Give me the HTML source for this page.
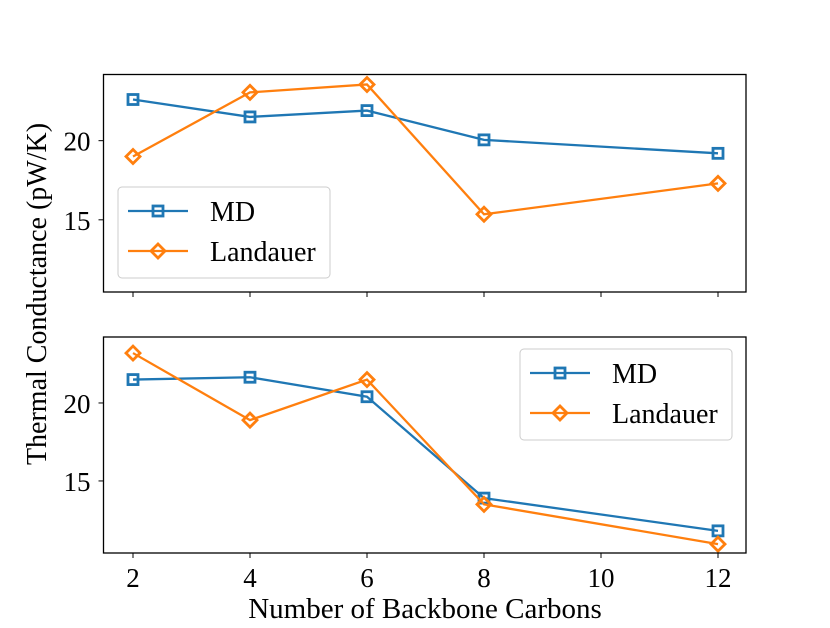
<!DOCTYPE html>
<html><head><meta charset="utf-8"><style>
body{margin:0;background:#fff}
svg text{font-family:"Liberation Serif",serif;fill:#000}
</style></head><body>
<svg width="830" height="623" xmlns="http://www.w3.org/2000/svg">
<g id="root"></g>
</svg>
<script>
const xCats=[2,4,6,8,12];
const xTicks=[2,4,6,8,10,12];
const topMD=[22.6,21.5,21.9,20.05,19.2];
const topLand=[19.0,23.05,23.55,15.35,17.3];
const botMD=[21.5,21.65,20.4,13.9,11.8];
const botLand=[23.2,18.9,21.5,13.5,10.95];
const yTicks=[15,20];
const seriesNames=["MD","Landauer"];
const colors=["#1f77b4","#ff7f0e"];
const NS="http://www.w3.org/2000/svg";
const root=document.getElementById('root');
function mk(t,a,p){const e=document.createElementNS(NS,t);for(const k in a)e.setAttribute(k,a[k]);(p||root).appendChild(e);return e;}
const X0=103.5,X1=746;
function xs(v){return 133+(v-2)*58.5;}
function marker(g,kind,x,y,c){
  let e;
  if(kind===0){e=mk('rect',{x:x-5,y:y-5,width:10,height:10,fill:'none',stroke:c,'stroke-width':2.8},g);}
  else{e=mk('polygon',{points:`${x},${y-7} ${x+7},${y} ${x},${y+7} ${x-7},${y}`,fill:'none',stroke:c,'stroke-width':2.8},g);}
  
  
}
function panel(name,top,bot,ymin,ymax,d1,d2,showX,leg){
  const g=mk('g',{});
  
  
  const ys=v=>bot-(v-ymin)/(ymax-ymin)*(bot-top);
  [d1,d2].forEach((d,si)=>{
    const pl=mk('polyline',{points:d.map((v,i)=>xs(xCats[i])+','+ys(v)).join(' '),fill:'none',stroke:colors[si],'stroke-width':2.3},g);
    
    
    d.forEach((v,i)=>marker(g,si,xs(xCats[i]),ys(v),colors[si]));
  });
  const fr=mk('rect',{x:X0,y:top,width:X1-X0,height:bot-top,fill:'none',stroke:'#000','stroke-width':1.3},g);
  
  
  yTicks.forEach(t=>{
    const y=ys(t);
    mk('line',{x1:X0-5,x2:X0,y1:y,y2:y,stroke:'#000'},g);
    const tx=mk('text',{x:X0-13,y:y+10,'text-anchor':'end','font-size':27},g);
    tx.textContent=t;
    
    
  });
  xTicks.forEach(t=>{
    const x=xs(t);
    mk('line',{x1:x,x2:x,y1:bot,y2:bot+5,stroke:'#000'},g);
    if(showX){
      const tx=mk('text',{x:x,y:bot+34,'text-anchor':'middle','font-size':27},g);
      tx.textContent=t;
      
      
    }
  });
  const lg=mk('g',{},g);
  
  
  mk('rect',{x:leg[0],y:leg[1],width:212,height:91,rx:4,fill:'#fff','fill-opacity':0.8,stroke:'#ccc','stroke-width':1},lg);
  seriesNames.forEach((n,si)=>{
    const yy=leg[1]+24+si*40;
    const ent=mk('g',{},lg);
    
    
    mk('line',{x1:leg[0]+10,x2:leg[0]+70,y1:yy,y2:yy,stroke:colors[si],'stroke-width':2.3},ent);
    marker(ent,si,leg[0]+40,yy,colors[si]);
    const t=mk('text',{x:leg[0]+92,y:yy+10,'font-size':28},ent);
    t.textContent=n;
  });
}
panel('top-panel',74.5,292,10.44,24.18,topMD,topLand,false,[118,187]);
panel('bottom-panel',337,553,10.38,24.23,botMD,botLand,true,[520,349]);
const xl=mk('text',{x:425,y:618,'text-anchor':'middle','font-size':29});
xl.textContent='Number of Backbone Carbons';


const yl=mk('text',{x:0,y:0,'text-anchor':'middle','font-size':28,transform:'translate(46,294) rotate(-90)'});
yl.textContent='Thermal Conductance (pW/K)';


</script>
</body></html>
